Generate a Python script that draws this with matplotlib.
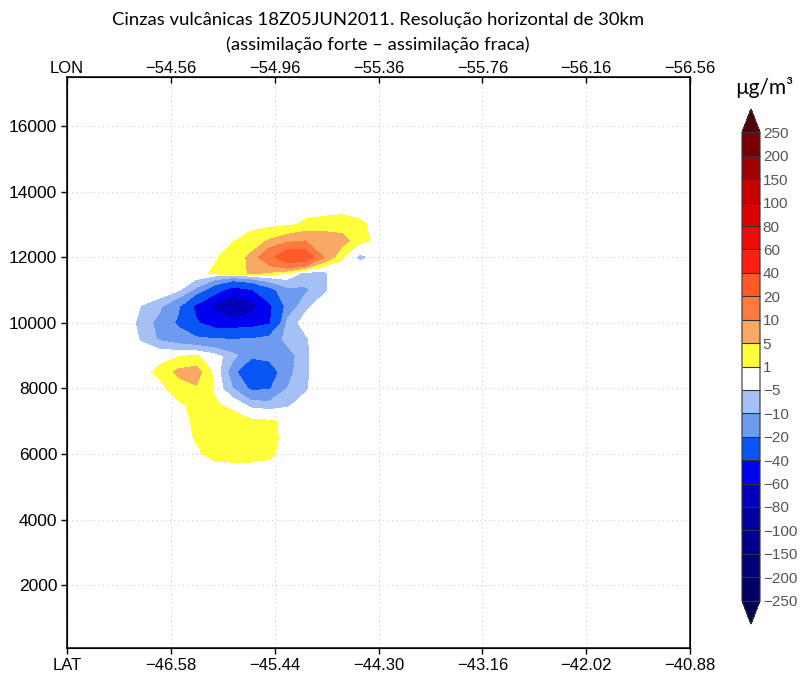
#
# Cinzas vulcanicas - secao vertical (assimilacao forte - fraca)
#
import numpy as np
import matplotlib
matplotlib.use('Agg')
import matplotlib.pyplot as plt
from matplotlib.colors import ListedColormap, BoundaryNorm

title1 = 'Cinzas vulcânicas 18Z05JUN2011. Resolução horizontal de 30km'
title2 = '(assimilação forte – assimilação fraca)'
unit = 'µg/m³'

lat_ticks = [-47.72, -46.58, -45.44, -44.30, -43.16, -42.02, -40.88]
lat_labels = ['LAT', '−46.58', '−45.44', '−44.30', '−43.16', '−42.02', '−40.88']
lon_labels = ['LON', '−54.56', '−54.96', '−55.36', '−55.76', '−56.16', '−56.56']
height_ticks = [2000, 4000, 6000, 8000, 10000, 12000, 14000, 16000]

levels = [-250, -200, -150, -100, -80, -60, -40, -20, -10, -5, 1,
          5, 10, 20, 40, 60, 80, 100, 150, 200, 250]
level_colors = ['#000064', '#00007a', '#00008c', '#0000a0', '#0000be',
                '#0000f0', '#0a55f5', '#6e9bf0', '#a5c0f5', (1, 1, 1, 0),
                '#ffff3c', '#f8aa64', '#ff7a40', '#ff5a28', '#ff1e14',
                '#f00a0a', '#dc0000', '#c80000', '#a00000', '#780000']
under_color = '#00004b'
over_color = '#500000'

# grid (LAT columns, height rows top -> bottom)
grid_lat = [-47.1, -46.9, -46.7, -46.5, -46.3, -46.1, -45.9, -45.7,
            -45.5, -45.3, -45.1, -44.9, -44.7, -44.5, -44.3, -44.1]
grid_height = [13500, 13000, 12500, 12000, 11500, 11000, 10500, 10000,
               9500, 9000, 8500, 8000, 7500, 7000, 6500, 6000, 5500]
ash_diff = [
    [0, 0, 0, 0, 0, 0, 0, 0, 0, 0, 0, 0, 0, 0, 0, 0],
    [0, 0, 0, 0, 0, 0, 0, 0, 0, 0.5, 1.5, 2, 2.5, 1.5, 0, 0],
    [0, 0, 0, 0, 0, 0, 0.8, 2.5, 5.5, 8, 10, 9, 7, 2, 0, 0],
    [0, 0, 0, 0, 0, 0.6, 2.5, 6, 16, 30, 28, 10, 1.2, -6, -2, 0],
    [0, 0, 0, 0, 0, 1.5, 3, 5.5, 4, 0, -6, -6, 0, 0, 0, 0],
    [0, 0, 0, -3, -12, -30, -50, -42, -25, -12, -11, -6, 0, 0, 0, 0],
    [0, -5, -9, -18, -45, -65, -85, -70, -45, -15, -6, 0, 0, 0, 0, 0],
    [0, -7, -12, -22, -38, -50, -50, -48, -42, -8, -2, 0, 0, 0, 0, 0],
    [0, -5.5, -11, -14, -17, -19, -20, -19, -15, -8, -5.5, -1, 0, 0, 0, 0],
    [0, 0, 0, 0.5, 1.5, -2, -8, -16, -16, -13, -6, 0, 0, 0, 0, 0],
    [0, 0, 1.8, 6, 7, 0, -14, -41, -28, -12, -6, 0, 0, 0, 0, 0],
    [0, 0, 0, 3, 4.5, 0.5, -10, -22, -21, -10, -5.5, 0, 0, 0, 0, 0],
    [0, 0, 0, 0.3, 2, 1.5, 0, -6, -7, -5.5, -2, 0, 0, 0, 0, 0],
    [0, 0, 0, 0, 1.5, 2.5, 2.5, 2, 1.5, 0.3, 0, 0, 0, 0, 0, 0],
    [0, 0, 0, 0, 1.2, 2.5, 3, 3, 2, 0, 0, 0, 0, 0, 0, 0],
    [0, 0, 0, 0, 0.6, 1.8, 2, 2, 1.5, 0, 0, 0, 0, 0, 0, 0],
    [0, 0, 0, 0, 0, 0, 0, 0, 0, 0, 0, 0, 0, 0, 0, 0],
]

cmap = ListedColormap(level_colors)
cmap.set_under(under_color)
cmap.set_over(over_color)
norm = BoundaryNorm(levels, cmap.N)

W, H = 806, 675
fig = plt.figure(figsize=(W / 100, H / 100), dpi=100)
ax = fig.add_axes([67 / W, 27 / H, 623 / W, 571 / H])

z = np.array(ash_diff)[::-1]
hts = np.array(grid_height)[::-1]
cs = ax.contourf(grid_lat, hts, z, levels=levels, cmap=cmap, norm=norm,
                 extend='both')

ax.set_xlim(lat_ticks[0], lat_ticks[-1])
ax.set_ylim(80, 17500)
ax.set_xticks(lat_ticks)
ax.set_xticklabels(lat_labels, family='Liberation Sans', fontsize=12)
ax.set_yticks(height_ticks)
ax.set_yticklabels([str(h) for h in height_ticks],
                   family='Liberation Sans', fontsize=12.5)
ax.tick_params(direction='out', length=4, width=1, pad=3)
ax.set_axisbelow(True)
ax.grid(True, linestyle=(0, (1, 3)), color='#cccccc', lw=0.8)
for s in ax.spines.values():
    s.set_linewidth(1.1)

axt = ax.twiny()
axt.set_xlim(ax.get_xlim())
axt.set_xticks(lat_ticks)
axt.set_xticklabels(lon_labels, family='Liberation Sans', fontsize=12)
axt.tick_params(direction='in', length=4, width=1, pad=1)

fig.text(378 / W, 1 - 20 / H, title1, ha='center', va='center',
         family='Lato', fontsize=13.3)
fig.text(378 / W, 1 - 45 / H, title2, ha='center', va='center',
         family='Lato', fontsize=13.3)

# colour bar
cax = fig.add_axes([742 / W, 51 / H, 18 / W, 515 / H])
cb = fig.colorbar(cs, cax=cax, ticks=levels, drawedges=True)
cb.set_ticklabels([str(v).replace('-', '−') for v in levels])
cb.ax.tick_params(length=0, pad=2, labelsize=11, labelcolor='#555555')
for lab in cb.ax.get_yticklabels():
    lab.set_family('Liberation Sans')
cb.dividers.set_color('#333333')
cb.dividers.set_linewidth(0.8)
cb.outline.set_linewidth(0.8)
cb.outline.set_edgecolor('#333333')
fig.text(764 / W, 1 - 88 / H, unit, ha='center', va='center',
         family='Lato', fontsize=15)

fig.savefig('out.png', dpi=100)
